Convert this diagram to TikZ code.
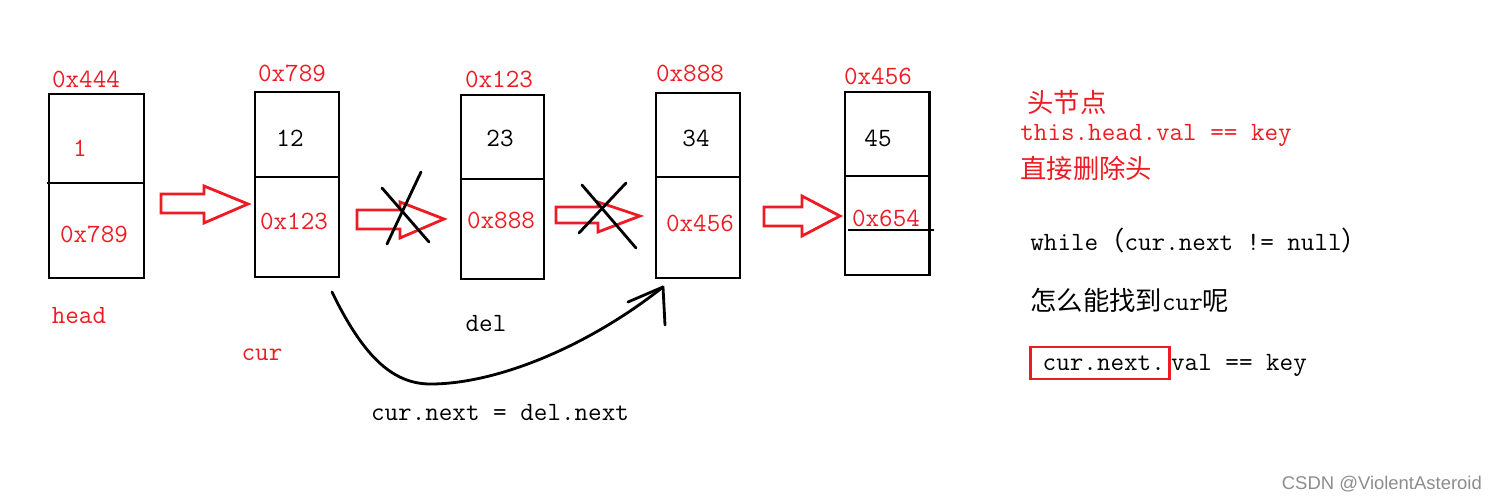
\documentclass[tikz,border=0pt]{standalone}
\usepackage{fontspec}
\newfontfamily\cjk{Noto Sans CJK SC}
\newfontfamily\markfont{Liberation Sans}
\usetikzlibrary{positioning}
\definecolor{paintred}{RGB}{237,28,36}
\newcommand\hanzi[1]{{\cjk\fontsize{15}{18}\selectfont #1}}

\begin{document}
\begin{tikzpicture}[x=0.02cm,y=-0.02cm,
    cell/.style={draw=black,line width=1.7pt},
    memtext/.style={inner sep=0pt,font=\ttfamily\fontsize{15}{17}\selectfont},
    addr/.style={memtext,text=paintred},
    hollow/.style={draw=paintred,line width=1.6pt,line join=miter},
    stroke/.style={draw=black,line width=1.6pt,line cap=round}]
  \useasboundingbox (0,0) rectangle (1499,500);

  % list boxes
  \foreach \xl/\xr/\yt/\ym/\yb in {49/144/94/183/278, 255/339/92/177/277,
      461/544/95/179/279, 656/740/93/177/278, 845/929/92/176/275}
    {
      \draw[cell] (\xl,\yt) rectangle (\xr,\yb);
      \draw[cell] (\xl,\ym) -- (\xr,\ym);
    }
  \draw[cell] (47,183) -- (49,183);

  % addresses on top
  \node[addr] (adr1) at (86,79) {0x444};
  \node[addr] (adr2) at (292,73) {0x789};
  \node[addr] (adr3) at (499,79) {0x123};
  \node[addr] (adr4) at (690,73) {0x888};
  \node[addr] (adr5) at (878,76) {0x456};

  % values
  \node[addr] (val1) at (80,148) {1};
  \node[memtext] (val2) at (290,138) {12};
  \node[memtext] (val3) at (500,138) {23};
  \node[memtext] (val4) at (696,138) {34};
  \node[memtext] (val5) at (878,138) {45};

  % next fields
  \node[addr] (nxt1) at (94,234) {0x789};
  \node[addr] (nxt2) at (294,221) {0x123};
  \node[addr] (nxt3) at (501,220) {0x888};
  \node[addr] (nxt4) at (700,223) {0x456};
  \node[addr] (nxt5) at (886,218) {0x654};
  \draw[line width=0.6pt] (848,230) -- (934,230);

  % hollow arrows
  \foreach \xa/\ya/\yb/\xb/\yc/\yd/\xt/\yt in {161/194/213/204/186/223/248/204,
      357/210/229/400/202/238/444/219, 556/207/223/598/202/232/640/216,
      764/207/226/802/196/236/840/216}
    {
      \draw[hollow] (\xa,\ya) -- (\xb,\ya) -- (\xb,\yc) -- (\xt,\yt)
        -- (\xb,\yd) -- (\xb,\yb) -- (\xa,\yb) -- cycle;
    }

  % crossed out links
  \draw[stroke] (382,188) -- (429,242);
  \draw[stroke] (421,172) -- (387,244);
  \draw[stroke] (582,185) -- (636,248);
  \draw[stroke] (626,183) -- (579,233);

  % pointer names
  \node[addr] (headlbl) at (79,316) {head};
  \node[addr] (curlbl) at (262,355) {cur};
  \node[memtext] (dellbl) at (486,324) {del};

  % new link
  \coordinate (bendfrom) at (332,292);
  \coordinate (bendlow) at (433,384);
  \coordinate (bendto) at (663,287);
  \draw[stroke] (bendfrom) .. controls (365,360) and (395,385) .. (bendlow)
    .. controls (500,383) and (590,345) .. (bendto);
  \draw[stroke] (bendto) -- (665,325);
  \draw[stroke] (628,302) -- (bendto);
  \node[memtext] (assign) at (500,413) {cur.next = del.next};

  % notes
  \node[addr,anchor=west] (note1) at (1027,102) {\hanzi{头节点}};
  \node[addr,anchor=west] (note2) at (1020,135) {this.head.val == key};
  \node[addr,anchor=west] (note3) at (1020,168) {\hanzi{直接删除头}};
  \node[memtext,anchor=west] (loop) at (1030,240)
    {while\hanzi{（}cur.next != null\hanzi{）}};
  \node[memtext,anchor=west] (ask) at (1030,300) {\hanzi{怎么能找到}cur\hanzi{呢}};
  \node[memtext,draw=paintred,line width=1.6pt,anchor=west,minimum height=0.64cm,
    text width=2.6cm,align=right,inner xsep=0.09cm] (nextbox) at (1029,363) {cur.next.};
  \node[memtext,anchor=base west] (cmp) at (nextbox.base east) {val == key};

  \node[anchor=east,text=black!45,font=\markfont\fontsize{10.5}{12}\selectfont]
    (mark) at (1488,484) {CSDN @ViolentAsteroid};
\end{tikzpicture}
\end{document}
